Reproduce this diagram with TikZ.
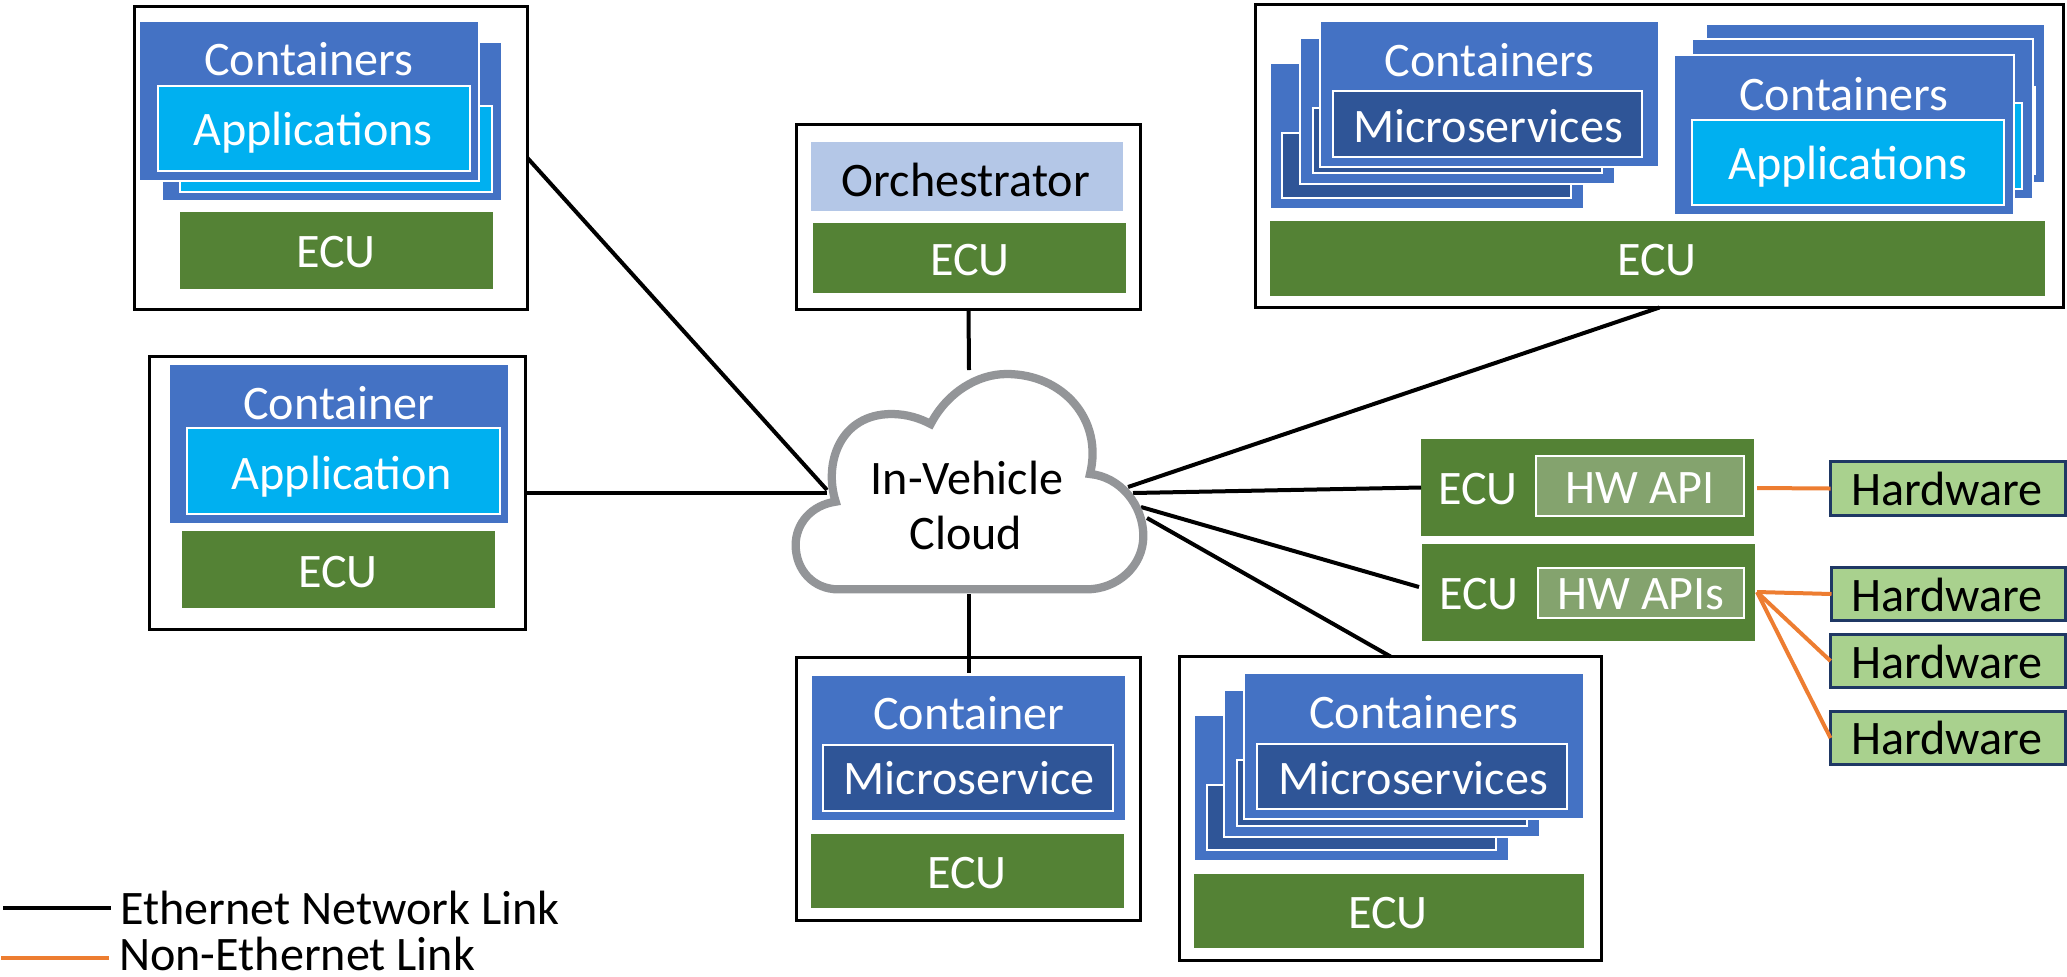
\documentclass[tikz,border=0pt]{standalone}
\usepackage{fontspec}
\setmainfont{Carlito}
\definecolor{contblue}{HTML}{4472C4}
\definecolor{appblue}{HTML}{00B0F0}
\definecolor{microblue}{HTML}{2F5597}
\definecolor{ecugreen}{HTML}{548235}
\definecolor{orchblue}{HTML}{B4C7E7}
\definecolor{apigreen}{HTML}{84A36E}
\definecolor{hwgreen}{HTML}{A9D18E}
\definecolor{hwline}{HTML}{1F3864}
\definecolor{linkorange}{HTML}{ED7D31}
\definecolor{cloudgray}{HTML}{939598}
\tikzset{
  panel/.style={draw=black,line width=2.25pt,fill=white},
  contbox/.style={fill=contblue,draw=white,line width=1.2pt},
  appbox/.style={fill=appblue,draw=white,line width=1.5pt},
  microbox/.style={fill=microblue,draw=white,line width=1.5pt},
  ecubox/.style={fill=ecugreen},
  orchbox/.style={fill=orchblue},
  apibox/.style={fill=apigreen,draw=white,line width=1.5pt},
  hwbox/.style={fill=hwgreen,draw=hwline,line width=2.25pt},
  wlabel/.style={text=white,anchor=base,inner sep=0pt,yshift=-0.75pt,font=\fontsize{36.1}{40}\selectfont},
  klabel/.style={text=black,anchor=base,inner sep=0pt,yshift=-0.75pt,font=\fontsize{36.1}{40}\selectfont},
  eth/.style={draw=black,line width=3pt},
  noneth/.style={draw=linkorange,line width=3pt},
}
\newcommand{\bx}[7][]{\node[#1,rectangle,inner sep=0pt,outer sep=0pt,
  minimum width={(#5-#3-2*#7)*0.75pt},minimum height={(#6-#4-2*#7)*0.75pt}] (#2)
  at ({(#3+#5)/2},{(#4+#6)/2}) {};}
\begin{document}
\begin{tikzpicture}[x=0.75pt,y=-0.75pt]
\useasboundingbox (0,0) rectangle (2067,976);

% top-left panel
\bx[panel]{pA}{133}{5}{529}{311}{1.5}
\bx[contbox]{pAc2}{162}{42}{502}{201}{0}
\bx[appbox]{pAa2}{179}{105}{493}{193}{1}
\bx[contbox]{pAc1}{139}{21}{479}{181}{0}
\bx[appbox]{pAa1}{157}{85}{471}{172}{1}
\bx[ecubox]{pAe}{180}{212}{493}{289}{0}
\node[wlabel] (tA1) at (309,74) {Containers};
\node[wlabel] (tA2) at (313,144) {Applications};
\node[wlabel] (tA3) at (336,266) {ECU};

% mid-left panel
\bx[panel]{pB}{148}{355}{527}{631}{1.5}
\bx[contbox]{pBc}{169}{364}{509}{524}{0}
\bx[appbox]{pBa}{186}{427}{501}{515}{1}
\bx[ecubox]{pBe}{182}{531}{495}{608}{0}
\node[wlabel] (tB1) at (339,418) {Container};
\node[wlabel] (tB2) at (342,488) {Application};
\node[wlabel] (tB3) at (338,586) {ECU};

% orchestrator panel
\bx[panel]{pC}{795}{123}{1142}{311}{1.5}
\bx[orchbox]{pCo}{811}{142}{1123}{211}{0}
\bx[ecubox]{pCe}{813}{223}{1126}{293}{0}
\node[klabel] (tC1) at (966,195) {Orchestrator};
\node[wlabel] (tC2) at (970,274) {ECU};

% top-right panel
\bx[panel]{pD}{1254}{3}{2065}{309}{1.5}
\bx[contbox]{pDl3}{1270}{63}{1584}{209}{0}
\bx[microbox]{pDm3}{1281}{132}{1572}{199}{1}
\bx[contbox]{pDl2}{1300}{38}{1615}{184}{0}
\bx[microbox]{pDm2}{1312}{107}{1603}{174}{1}
\bx[contbox]{pDl1}{1320}{21}{1659}{167}{0}
\bx[microbox]{pDm1}{1332}{90}{1643}{158}{1}
\bx[contbox]{pDr3}{1706}{24}{2045}{183}{0}
\bx[appbox]{pDa3}{1722}{86}{2036}{175}{1}
\bx[contbox]{pDr2}{1692}{39}{2033}{199}{0}
\bx[appbox]{pDa2}{1709}{102}{2023}{190}{1}
\bx[contbox]{pDr1}{1674}{55}{2014}{215}{0}
\bx[appbox]{pDa1}{1691}{119}{2005}{206}{1}
\bx[ecubox]{pDe}{1270}{221}{2045}{296}{0}
\node[wlabel] (tD1) at (1489.5,75) {Containers};
\node[wlabel] (tD2) at (1488,141) {Microservices};
\node[wlabel] (tD3) at (1844,109) {Containers};
\node[wlabel] (tD4) at (1848,178) {Applications};
\node[wlabel] (tD5) at (1657,274) {ECU};

% bottom-centre panel
\bx[panel]{pE}{795}{656}{1142}{922}{1.5}
\bx[contbox]{pEc}{811}{675}{1126}{821}{0}
\bx[microbox]{pEm}{822}{744}{1114}{812}{1}
\bx[ecubox]{pEe}{811}{834}{1124}{908}{0}
\node[wlabel] (tE1) at (969,728) {Container};
\node[wlabel] (tE2) at (969,793) {Microservice};
\node[wlabel] (tE3) at (967,887) {ECU};

% bottom-right panel
\bx[panel]{pF}{1178}{655}{1603}{962}{1.5}
\bx[contbox]{pFc3}{1194}{715}{1509}{861}{0}
\bx[microbox]{pFm3}{1206}{784}{1497}{851}{1}
\bx[contbox]{pFc2}{1224}{690}{1540}{837}{0}
\bx[microbox]{pFm2}{1236}{759}{1528}{827}{1}
\bx[contbox]{pFc1}{1244}{673}{1584}{819}{0}
\bx[microbox]{pFm1}{1256}{743}{1568}{810}{1}
\bx[ecubox]{pFe}{1194}{874}{1584}{948}{0}
\node[wlabel] (tF1) at (1414,727) {Containers};
\node[wlabel] (tF2) at (1413,793) {Microservices};
\node[wlabel] (tF3) at (1388,927) {ECU};

% ECU + HW API blocks
\bx[ecubox]{gA}{1421}{439}{1754}{536}{0}
\bx[apibox]{gAa}{1535}{455}{1745}{517}{1}
\bx[ecubox]{gB}{1422}{544}{1755}{641}{0}
\bx[apibox]{gBa}{1537}{567}{1745}{619}{1}
\node[wlabel] (tG1) at (1478,503) {ECU};
\node[wlabel] (tG2) at (1640,502) {HW API};
\node[wlabel] (tG3) at (1479,608) {ECU};
\node[wlabel] (tG4) at (1641,608) {HW APIs};

% hardware
\bx[hwbox]{hA}{1829}{460}{2067}{517}{1.5}
\bx[hwbox]{hB}{1830}{566}{2067}{622}{1.5}
\bx[hwbox]{hC}{1829}{633}{2067}{689}{1.5}
\bx[hwbox]{hD}{1829}{710}{2067}{766}{1.5}
\node[klabel] (tH1) at (1947,504) {Hardware};
\node[klabel] (tH2) at (1947,610) {Hardware};
\node[klabel] (tH3) at (1947,677) {Hardware};
\node[klabel] (tH4) at (1947,753) {Hardware};

% connector end points
\coordinate (cA) at (827,490);
\coordinate (cB) at (827,493);
\coordinate (cC) at (969,370);
\coordinate (cE) at (969,594);
\coordinate (cEin) at (969,673);
\coordinate (cD) at (1128,487);
\coordinate (cG) at (1133,493);
\coordinate (cH) at (1141,507);
\coordinate (cF) at (1147,518);
\coordinate (gBin) at (1419,587);
\coordinate (gBout) at (1757,592);
\coordinate (gAout) at (1757,488);

% links
\draw[eth] (pA.east) -- (cA);
\draw[eth] (pB.east) -- (cB);
\draw[eth] (pC.south) -- (cC);
\draw[eth] (cE) -- (cEin);
\draw[eth] (pD.south) -- (cD);
\draw[eth] (gA.west) -- (cG);
\draw[eth] (gBin) -- (cH);
\draw[eth] (pF.north) -- (cF);
\draw[noneth] (gAout) -- (hA.west);
\draw[noneth] (gBout) -- (hB.west);
\draw[noneth] (gBout) -- (hC.west);
\draw[noneth] (gBout) -- (hD.west);

% cloud
\begin{scope}[shift={(770,350)},x=0.25pt,y=-0.25pt]
\draw[cloudgray,fill=white,line width=6.2pt,miter limit=10]
  (197,455) .. controls (160,340) and (210,192) .. (365,192)
  .. controls (410,192) and (450,205) .. (482,222)
  .. controls (530,130) and (620,72) .. (710,72)
  .. controls (880,72) and (1000,210) .. (960,372)
  .. controls (1050,380) and (1120,465) .. (1120,558)
  .. controls (1120,650) and (1040,718) .. (950,718)
  -- (205,718)
  .. controls (130,718) and (77,660) .. (77,585)
  .. controls (77,520) and (125,465) .. (197,455) -- cycle;
\end{scope}
\node[klabel] (tCl1) at (967,493) {In-Vehicle};
\node[klabel] (tCl2) at (966,548) {Cloud};

% legend
\coordinate (lA0) at (3,908);
\coordinate (lA1) at (111,908);
\coordinate (lB0) at (1,958);
\coordinate (lB1) at (109,958);
\draw[eth] (lA0) -- (lA1);
\draw[noneth] (lB0) -- (lB1);
\node[klabel,anchor=base west] (tL1) at (120,923) {Ethernet Network Link};
\node[klabel,anchor=base west] (tL2) at (119,969) {Non-Ethernet Link};
\end{tikzpicture}
\end{document}
